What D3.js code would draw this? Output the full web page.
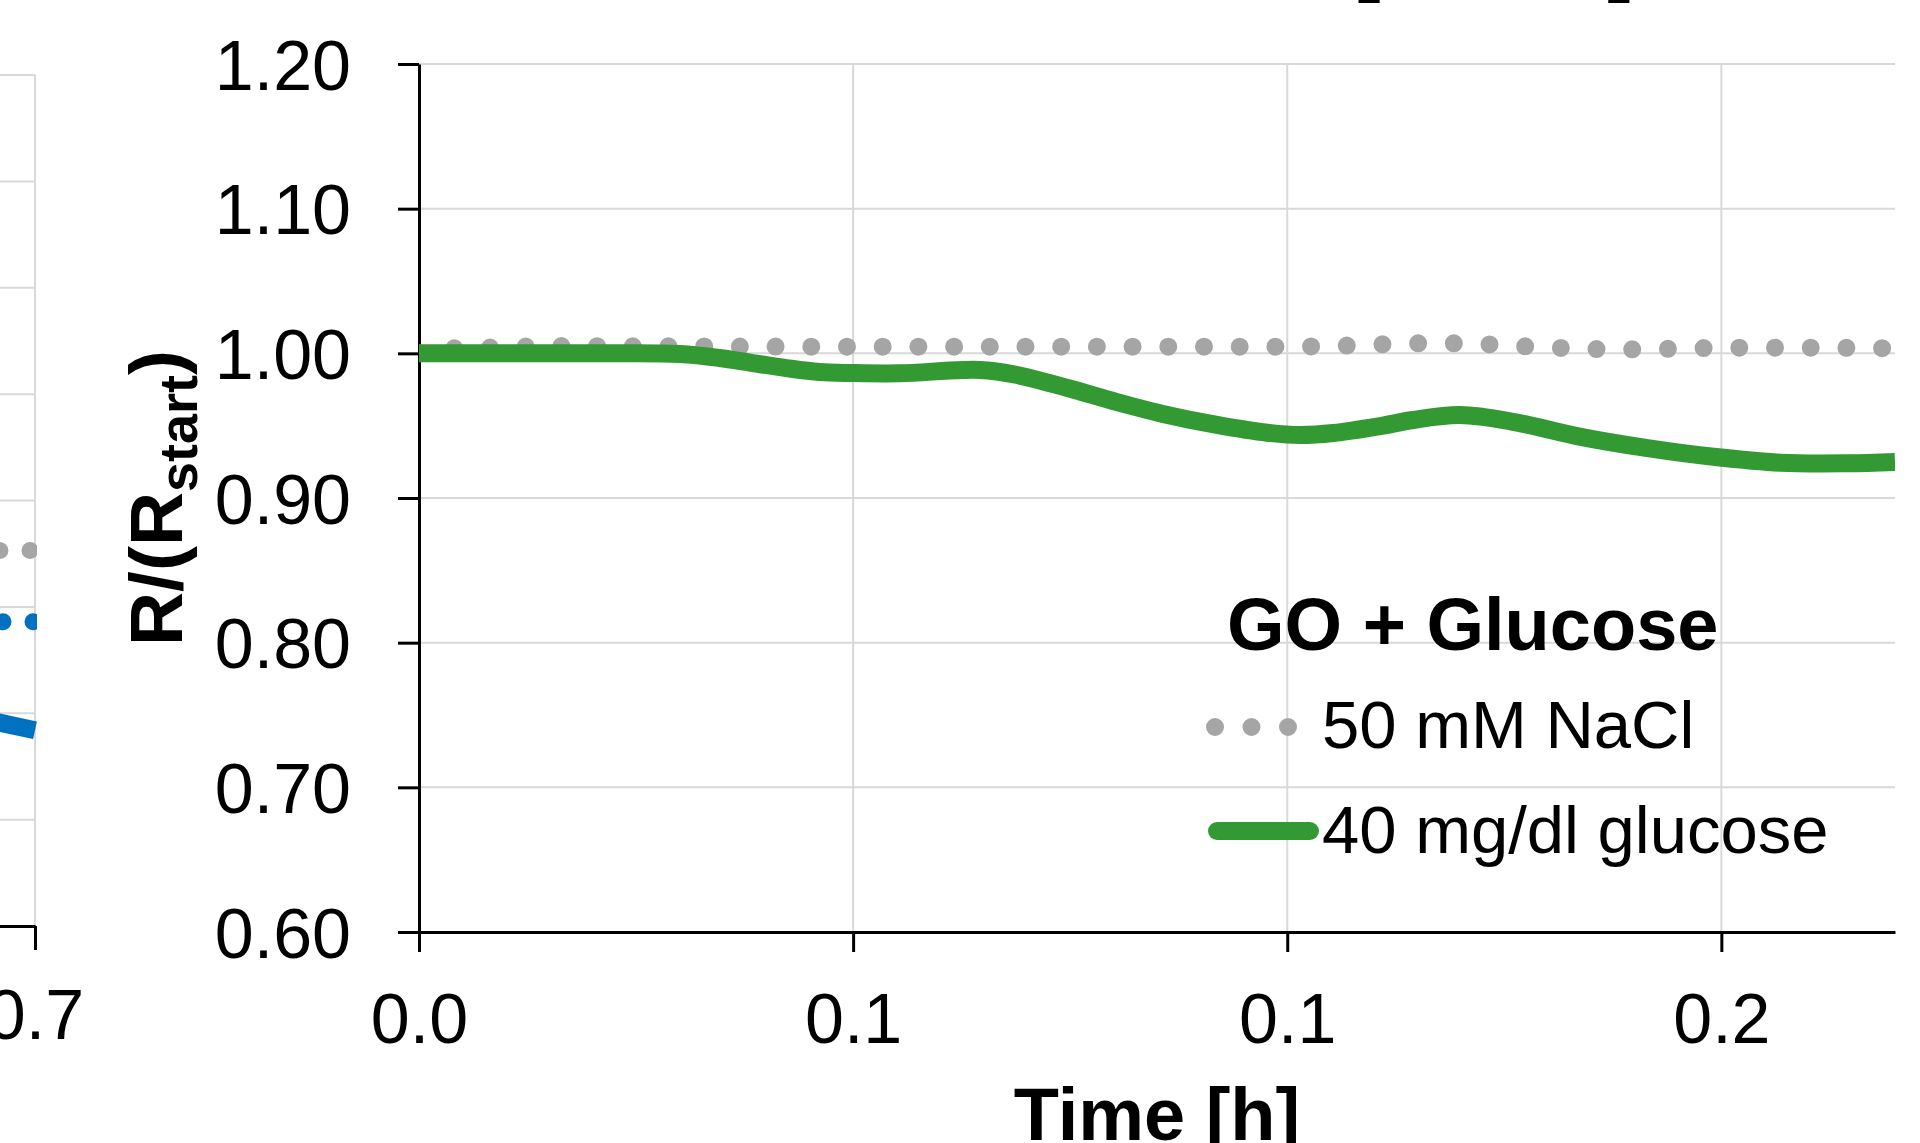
<!DOCTYPE html>
<html>
<head>
<meta charset="utf-8">
<script src="https://cdn.jsdelivr.net/npm/d3@7"></script>
<style>
  html, body { margin: 0; padding: 0; background: #ffffff; }
  svg { display: block; font-family: "Liberation Sans", Arial, sans-serif; }
</style>
</head>
<body>
<svg id="chart" width="1920" height="1143"></svg>
<script>
// ---------------- data ----------------
// main panel: GO + Glucose
const xTickValues = [0, 0.05, 0.10, 0.15];
const xTickLabels = ["0.0", "0.1", "0.1", "0.2"];
const yTickValues = [0.60, 0.70, 0.80, 0.90, 1.00, 1.10, 1.20];

const naclTime  = [0, 0.004, 0.008, 0.016, 0.03, 0.05, 0.08, 0.10, 0.106, 0.111, 0.1145, 0.1187, 0.123, 0.127, 0.131, 0.135, 0.139, 0.143, 0.147, 0.152, 0.16, 0.17];
const naclValue = [1.000, 1.0035, 1.004, 1.005, 1.0048, 1.0046, 1.0046, 1.0046, 1.0052, 1.0062, 1.0069, 1.0069, 1.0062, 1.0050, 1.0039, 1.0030, 1.0028, 1.0030, 1.0035, 1.0039, 1.0039, 1.0035];

const glucTime  = [0, 0.0209, 0.030, 0.0346, 0.0384, 0.0423, 0.0461, 0.0499, 0.0554, 0.0646, 0.0689, 0.0747, 0.0804, 0.0862, 0.0919, 0.0977, 0.1015, 0.1053, 0.1107, 0.1145, 0.1199, 0.126, 0.1338, 0.1415, 0.1491, 0.1568, 0.1645, 0.170];
const glucValue = [1.000, 1.000, 0.9995, 0.9968, 0.9933, 0.9898, 0.9871, 0.9864, 0.9862, 0.9885, 0.9850, 0.9760, 0.9663, 0.9574, 0.9505, 0.9451, 0.9435, 0.9449, 0.9497, 0.9539, 0.9573, 0.9527, 0.9423, 0.9345, 0.9285, 0.9244, 0.9240, 0.9249];

const legendTitle = "GO + Glucose";
const seriesNames = ["50 mM NaCl", "40 mg/dl glucose"];
const seriesColors = ["#a5a5a5", "#339933"];

const xTitle = "Time [h]";
const yTitleMain = "R/(R";
const yTitleSub = "start";
const yTitleEnd = ")";
const topTitle = "[kOhm]";

// left (neighbouring, cut-off) panel – only its right edge is visible
const leftXTicks = [0.7];
const leftYTicks = [0.7, 0.8, 0.9, 1.0, 1.1, 1.2, 1.3, 1.4];
const leftTime       = [0.62, 0.66, 0.70];
const leftNacl       = [0.955, 0.953, 0.953];
const leftDotted     = [0.887, 0.886, 0.886];
const leftSolid      = [0.815, 0.800, 0.784];
const leftColors     = ["#a5a5a5", "#0070c0", "#0070c0"];

// ---------------- drawing ----------------
const svg = d3.select("#chart");
const FONT_TICK = 70;
const GRID = "#d9d9d9";

// main scales
const x = d3.scaleLinear().domain([0, 0.17]).range([419, 1895]);
const y = d3.scaleLinear().domain([0.6, 1.2]).range([932, 64]);

// left panel scales
const xL = d3.scaleLinear().domain([0, 0.7]).range([35 - 1400, 35]);
const yL = d3.scaleLinear().domain([0.6, 1.4]).range([926, 75]);

const defs = svg.append("defs");
defs.append("clipPath").attr("id", "clipMain").append("rect")
  .attr("x", x(0)).attr("y", y(1.2) - 20).attr("width", x(0.17) - x(0)).attr("height", y(0.6) - y(1.2) + 20);
defs.append("clipPath").attr("id", "clipLeft").append("rect")
  .attr("x", xL(0)).attr("y", yL(1.4)).attr("width", xL(0.7) - xL(0) + 2).attr("height", yL(0.6) - yL(1.4));

// ---- top title (cut off by the frame) ----
svg.append("text")
  .attr("x", 1494).attr("y", -14)
  .attr("text-anchor", "middle")
  .attr("font-size", 80).attr("font-weight", "bold")
  .text(topTitle);

// ---- left panel ----
const gL = svg.append("g");
gL.selectAll("line.hgrid").data(leftYTicks).enter().append("line")
  .attr("x1", xL(0)).attr("x2", xL(0.7))
  .attr("y1", d => yL(d)).attr("y2", d => yL(d))
  .attr("stroke", GRID).attr("stroke-width", 2);
gL.selectAll("line.vgrid").data(leftXTicks).enter().append("line")
  .attr("x1", d => xL(d)).attr("x2", d => xL(d))
  .attr("y1", yL(1.4)).attr("y2", yL(0.6))
  .attr("stroke", GRID).attr("stroke-width", 2);

const lineL = d3.line().x((d, i) => xL(leftTime[i])).y(d => yL(d)).curve(d3.curveMonotoneX);
const gLS = gL.append("g").attr("clip-path", "url(#clipLeft)");
gLS.append("path").attr("d", lineL(leftNacl)).attr("fill", "none")
  .attr("stroke", leftColors[0]).attr("stroke-width", 17).attr("stroke-linecap", "round")
  .attr("stroke-dasharray", "0 30").attr("stroke-dashoffset", 25);
gLS.append("path").attr("d", lineL(leftDotted)).attr("fill", "none")
  .attr("stroke", leftColors[1]).attr("stroke-width", 17).attr("stroke-linecap", "round")
  .attr("stroke-dasharray", "0 30").attr("stroke-dashoffset", 22);
gLS.append("path").attr("d", lineL(leftSolid)).attr("fill", "none")
  .attr("stroke", leftColors[2]).attr("stroke-width", 18);

const axL = gL.append("g").attr("transform", `translate(0,${yL(0.6)})`)
  .call(d3.axisBottom(xL).tickValues(leftXTicks).tickFormat(d3.format(".1f"))
        .tickSize(24).tickSizeOuter(0).tickPadding(39));
axL.select(".domain").attr("stroke", "#000").attr("stroke-width", 3);
axL.selectAll(".tick line").attr("stroke", "#000").attr("stroke-width", 3);
axL.selectAll(".tick text").attr("font-size", FONT_TICK).attr("fill", "#000")
  .attr("font-family", "Liberation Sans, Arial, sans-serif");

// ---- main panel grid ----
const g = svg.append("g");
g.selectAll("line.hgrid").data(yTickValues.slice(1)).enter().append("line")
  .attr("x1", x(0)).attr("x2", x(0.17))
  .attr("y1", d => y(d)).attr("y2", d => y(d))
  .attr("stroke", GRID).attr("stroke-width", 2);
g.selectAll("line.vgrid").data(xTickValues.slice(1)).enter().append("line")
  .attr("x1", d => x(d)).attr("x2", d => x(d))
  .attr("y1", y(1.2)).attr("y2", y(0.6))
  .attr("stroke", GRID).attr("stroke-width", 2);

// ---- axes ----
const axY = g.append("g").attr("transform", `translate(${x(0)},0)`)
  .call(d3.axisLeft(y).tickValues(yTickValues).tickFormat(d3.format(".2f"))
        .tickSize(21).tickSizeOuter(0).tickPadding(47));
axY.select(".domain").attr("stroke", "#000").attr("stroke-width", 3);
axY.selectAll(".tick line").attr("stroke", "#000").attr("stroke-width", 3);
axY.selectAll(".tick text").attr("font-size", FONT_TICK).attr("fill", "#000")
  .attr("dy", "0.36em").attr("font-family", "Liberation Sans, Arial, sans-serif");

const axX = g.append("g").attr("transform", `translate(0,${y(0.6)})`)
  .call(d3.axisBottom(x).tickValues(xTickValues).tickFormat((d, i) => xTickLabels[i])
        .tickSize(20).tickSizeOuter(0).tickPadding(41));
axX.select(".domain").attr("stroke", "#000").attr("stroke-width", 3);
axX.selectAll(".tick line").attr("stroke", "#000").attr("stroke-width", 3);
axX.selectAll(".tick text").attr("font-size", FONT_TICK).attr("fill", "#000")
  .attr("font-family", "Liberation Sans, Arial, sans-serif");

// ---- series ----
const gS = g.append("g").attr("clip-path", "url(#clipMain)");
const lineN = d3.line().x((d, i) => x(naclTime[i])).y(d => y(d)).curve(d3.curveMonotoneX);
const lineG = d3.line().x((d, i) => x(glucTime[i])).y(d => y(d)).curve(d3.curveCatmullRom.alpha(0.5));
gS.append("path").attr("d", lineN(naclValue)).attr("fill", "none")
  .attr("stroke", seriesColors[0]).attr("stroke-width", 18).attr("stroke-linecap", "round")
  .attr("stroke-dasharray", "0 35.7");
gS.append("path").attr("d", lineG(glucValue)).attr("fill", "none")
  .attr("stroke", seriesColors[1]).attr("stroke-width", 18).attr("stroke-linejoin", "round");

// ---- axis titles ----
svg.append("text")
  .attr("x", (x(0) + x(0.17)) / 2).attr("y", 1140)
  .attr("text-anchor", "middle").attr("font-size", 74).attr("font-weight", "bold")
  .text(xTitle);

const yt = svg.append("text")
  .attr("transform", `translate(182,${(y(0.6) + y(1.2)) / 2}) rotate(-90)`)
  .attr("text-anchor", "middle").attr("font-size", 75).attr("font-weight", "bold");
yt.append("tspan").text(yTitleMain);
yt.append("tspan").attr("font-size", 54).attr("dy", 15).text(yTitleSub);
yt.append("tspan").attr("dy", -15).text(yTitleEnd);

// ---- legend ----
const lg = svg.append("g");
lg.append("text").attr("x", 1227).attr("y", 650)
  .attr("font-size", 74).attr("font-weight", "bold").text(legendTitle);
const legendRows = [
  { y: 727, base: 748 },
  { y: 831, base: 853 }
];
lg.append("path").attr("d", d3.line()([[1215, legendRows[0].y], [1300, legendRows[0].y]]))
  .attr("stroke", seriesColors[0]).attr("stroke-width", 18).attr("stroke-linecap", "round")
  .attr("stroke-dasharray", "0 36.5").attr("fill", "none");
lg.append("path").attr("d", d3.line()([[1217, legendRows[1].y], [1310, legendRows[1].y]]))
  .attr("stroke", seriesColors[1]).attr("stroke-width", 18).attr("stroke-linecap", "round")
  .attr("fill", "none");
seriesNames.forEach((name, i) => {
  lg.append("text").attr("x", 1322).attr("y", legendRows[i].base)
    .attr("font-size", 67).text(name);
});
</script>
</body>
</html>
